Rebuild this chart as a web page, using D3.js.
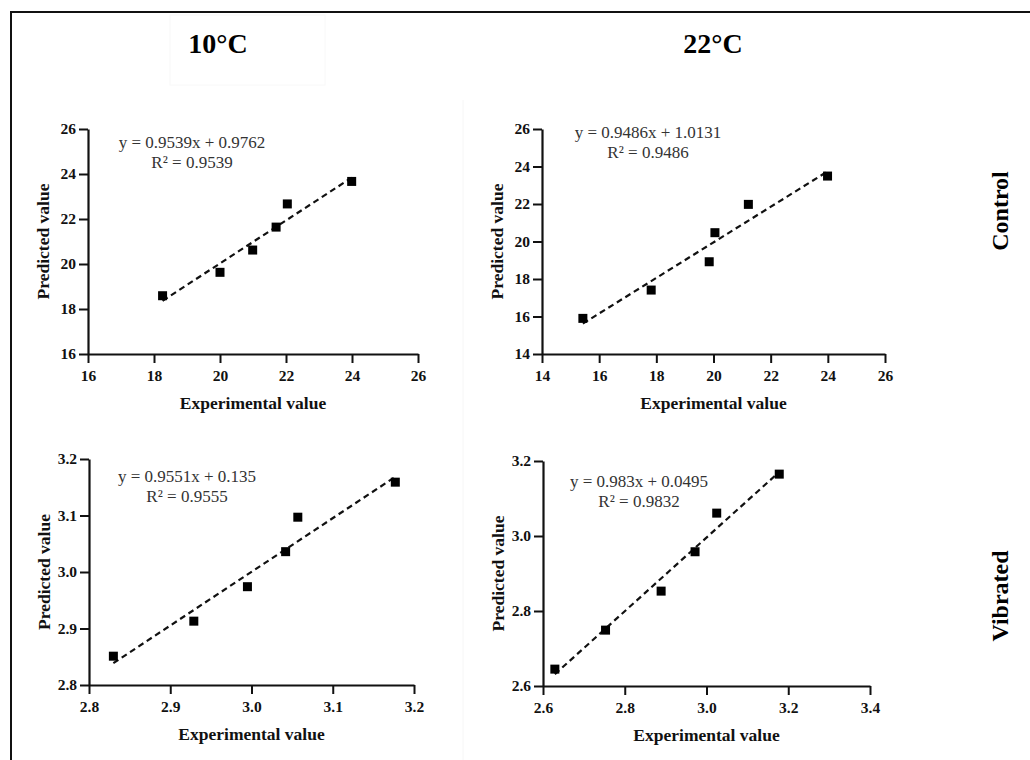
<!DOCTYPE html>
<html>
<head>
<meta charset="utf-8">
<script src="https://cdn.jsdelivr.net/npm/d3@7"></script>
<style>
body { margin: 0; background: #fff; }
svg { display: block; }
text { font-family: "Liberation Serif", "Times New Roman", serif; }
</style>
</head>
<body>
<script>
const width = 1030;
const height = 760;

// data
const columns = ['10°C', '22°C'];
const rows = ['Control', 'Vibrated'];

const expControl10 = [18.26, 20.0, 20.99, 21.70, 22.04, 23.99];
const predControl10 = [18.59, 19.63, 20.62, 21.64, 22.67, 23.67];
const expControl22 = [15.43, 17.82, 19.85, 20.05, 21.22, 23.99];
const predControl22 = [15.90, 17.41, 18.92, 20.47, 21.98, 23.49];
const expVibrated10 = [2.830, 2.929, 2.995, 3.042, 3.057, 3.177];
const predVibrated10 = [2.851, 2.913, 2.974, 3.036, 3.097, 3.159];
const expVibrated22 = [2.629, 2.753, 2.889, 2.972, 3.025, 3.178];
const predVibrated22 = [2.645, 2.749, 2.853, 2.958, 3.061, 3.165];

const ticksControl10 = [16, 18, 20, 22, 24, 26];
const ticksControl22X = [14, 16, 18, 20, 22, 24, 26];
const ticksControl22Y = [14, 16, 18, 20, 22, 24, 26];
const ticksVibrated10 = [2.8, 2.9, 3.0, 3.1, 3.2];
const ticksVibrated22X = [2.6, 2.8, 3.0, 3.2, 3.4];
const ticksVibrated22Y = [2.6, 2.8, 3.0, 3.2];

const equations = ['y = 0.9539x + 0.9762', 'y = 0.9486x + 1.0131', 'y = 0.9551x + 0.135', 'y = 0.983x + 0.0495'];
const rsquared = ['R² = 0.9539', 'R² = 0.9486', 'R² = 0.9555', 'R² = 0.9832'];

// panel layout
const panels = [
  { exp: expControl10, pred: predControl10, xt: ticksControl10, yt: ticksControl10, fmt: d3.format('d'),
    xr: [88, 418], yr: [354, 129], eq: [192, 148, 168] },
  { exp: expControl22, pred: predControl22, xt: ticksControl22X, yt: ticksControl22Y, fmt: d3.format('d'),
    xr: [542, 885], yr: [354, 129], eq: [648, 138, 158] },
  { exp: expVibrated10, pred: predVibrated10, xt: ticksVibrated10, yt: ticksVibrated10, fmt: d3.format('.1f'),
    xr: [89, 414], yr: [685, 459], eq: [187, 482, 502] },
  { exp: expVibrated22, pred: predVibrated22, xt: ticksVibrated22X, yt: ticksVibrated22Y, fmt: d3.format('.1f'),
    xr: [543, 870], yr: [686, 461], eq: [639, 487, 507] }
];

const svg = d3.select('body').append('svg')
  .attr('width', width)
  .attr('height', height);

// outer frame, runs off right and bottom
svg.append('path')
  .attr('d', 'M11,775V12H1045')
  .attr('fill', 'none')
  .attr('stroke', '#111')
  .attr('stroke-width', 2);

// faint seams of the pasted images
svg.append('rect').attr('x', 170).attr('y', 15).attr('width', 155).attr('height', 70)
  .attr('fill', 'none').attr('stroke', '#f8f8f8');
svg.append('line').attr('x1', 463).attr('x2', 463).attr('y1', 100).attr('y2', 760)
  .attr('stroke', '#f6f6f6');

svg.selectAll('.col')
  .data(columns)
  .join('text')
  .attr('class', 'col')
  .attr('x', (d, i) => [218, 713][i])
  .attr('y', 53)
  .attr('text-anchor', 'middle')
  .attr('font-size', 28)
  .attr('font-weight', 'bold')
  .text(d => d);

svg.selectAll('.row')
  .data(rows)
  .join('text')
  .attr('class', 'row')
  .attr('transform', (d, i) => `translate(1008,${[211, 596][i]}) rotate(-90)`)
  .attr('text-anchor', 'middle')
  .attr('font-size', 24)
  .attr('font-weight', 'bold')
  .text(d => d);

function fit(xs, ys) {
  const mx = d3.mean(xs), my = d3.mean(ys);
  let sxy = 0, sxx = 0;
  xs.forEach((v, i) => { sxy += (v - mx) * (ys[i] - my); sxx += (v - mx) * (v - mx); });
  const b = sxy / sxx;
  return { b: b, a: my - b * mx };
}

panels.forEach((p, k) => {
  const g = svg.append('g');
  const x = d3.scaleLinear().domain(d3.extent(p.xt)).range(p.xr);
  const y = d3.scaleLinear().domain(d3.extent(p.yt)).range(p.yr);

  const ax = g.append('g')
    .attr('transform', `translate(0,${p.yr[0]})`)
    .call(d3.axisBottom(x).tickValues(p.xt).tickFormat(p.fmt).tickSize(9).tickPadding(7).tickSizeOuter(0));
  const ay = g.append('g')
    .attr('transform', `translate(${p.xr[0]},0)`)
    .call(d3.axisLeft(y).tickValues(p.yt).tickFormat(p.fmt).tickSize(9).tickPadding(3).tickSizeOuter(0));
  [ax, ay].forEach(a => {
    a.select('.domain').attr('stroke', '#111').attr('stroke-width', 2.2);
    a.selectAll('.tick line').attr('stroke', '#111').attr('stroke-width', 2);
    a.selectAll('.tick text')
      .attr('fill', '#111')
      .attr('font-size', 15.5)
      .attr('font-weight', 'bold')
      .attr('font-family', '"Liberation Serif", serif');
  });

  // axis titles
  g.append('text')
    .attr('x', (p.xr[0] + p.xr[1]) / 2)
    .attr('y', p.yr[0] + 55)
    .attr('text-anchor', 'middle')
    .attr('font-size', 17.5)
    .attr('font-weight', 'bold')
    .attr('fill', '#111')
    .text('Experimental value');
  g.append('text')
    .attr('transform', `translate(${p.xr[0] - 39},${(p.yr[0] + p.yr[1]) / 2}) rotate(-90)`)
    .attr('text-anchor', 'middle')
    .attr('font-size', 17.5)
    .attr('font-weight', 'bold')
    .attr('fill', '#111')
    .text('Predicted value');

  // trend line
  const f = fit(p.exp, p.pred);
  const xe = d3.extent(p.exp);
  g.append('line')
    .attr('x1', x(xe[0])).attr('y1', y(f.a + f.b * xe[0]))
    .attr('x2', x(xe[1])).attr('y2', y(f.a + f.b * xe[1]))
    .attr('stroke', '#111')
    .attr('stroke-width', 2.2)
    .attr('stroke-dasharray', '6,4');

  g.selectAll('rect.pt')
    .data(p.exp)
    .join('rect')
    .attr('class', 'pt')
    .attr('x', d => x(d) - 4.5)
    .attr('y', (d, i) => y(p.pred[i]) - 4.5)
    .attr('width', 9)
    .attr('height', 9)
    .attr('fill', '#000');

  g.append('text')
    .attr('x', p.eq[0]).attr('y', p.eq[1])
    .attr('text-anchor', 'middle')
    .attr('font-size', 17)
    .attr('fill', '#333')
    .text(equations[k]);
  g.append('text')
    .attr('x', p.eq[0]).attr('y', p.eq[2])
    .attr('text-anchor', 'middle')
    .attr('font-size', 17)
    .attr('fill', '#333')
    .text(rsquared[k]);
});
</script>
</body>
</html>
